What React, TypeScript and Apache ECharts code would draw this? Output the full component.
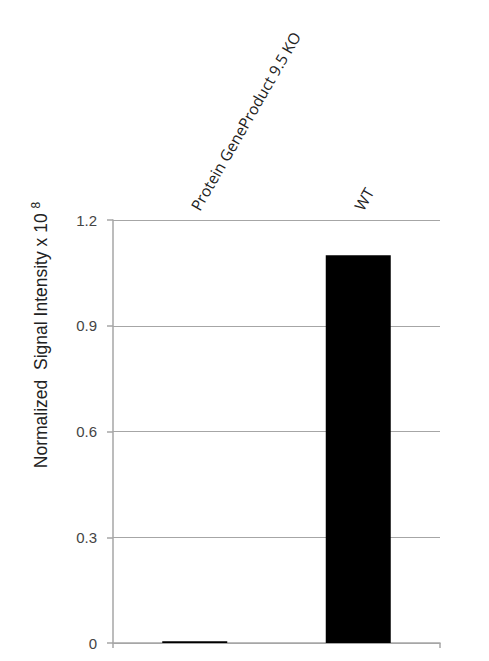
import React, { useEffect, useRef } from "react";
import * as echarts from "echarts";

const categories = ["Protein GeneProduct 9.5 KO", "WT"];
const values = [0.005, 1.1];
const yTicks = { min: 0, max: 1.2, interval: 0.3 };
const yName = "Normalized  Signal Intensity x 10 ";
const yNameSup = "8";

export default function App() {
  const ref = useRef<HTMLDivElement>(null);
  useEffect(() => {
    const chart = echarts.init(ref.current!, null, { renderer: "svg" });
    const grey = "#a6a6a6";
    chart.setOption({
      animation: false,
      backgroundColor: "#ffffff",
      grid: { left: 113, right: 49, top: 220, bottom: 18, containLabel: false },
      xAxis: [
        {
          type: "category",
          data: categories,
          position: "bottom",
          axisLine: { lineStyle: { color: grey, width: 1.5 } },
          axisTick: { show: true, length: 5, lineStyle: { color: grey, width: 1.5 } },
          axisLabel: { show: false },
        },
        {
          type: "category",
          data: categories,
          position: "top",
          axisLine: { show: false },
          axisTick: { show: false },
          axisLabel: {
            rotate: -60,
            margin: 11,
            color: "#222",
            fontSize: 15.5,
            fontFamily: "Open Sans",
          },
        },
      ],
      yAxis: {
        type: "value",
        min: yTicks.min,
        max: yTicks.max,
        interval: yTicks.interval,
        axisLine: { show: true, lineStyle: { color: grey, width: 1.5 } },
        axisTick: { show: true, length: 6, lineStyle: { color: grey, width: 1.5 } },
        splitLine: { show: true, lineStyle: { color: grey, width: 1.2 } },
        axisLabel: {
          color: "#444",
          fontSize: 15,
          fontFamily: "Liberation Sans",
          margin: 16,
          formatter: (v: number) => (v === 0 ? "0" : String(Math.round(v * 10) / 10)),
        },
      },
      series: [
        {
          type: "bar",
          data: values,
          xAxisIndex: 0,
          barWidth: 65,
          itemStyle: { color: "#000000" },
        },
      ],
      graphic: [
        {
          type: "text",
          x: 41,
          y: 335,
          rotation: Math.PI / 2,
          style: {
            text: yName + "{sup|" + yNameSup + "}",
            fill: "#222",
            fontSize: 17.5,
            fontFamily: "Liberation Sans",
            align: "center",
            verticalAlign: "middle",
            rich: {
              sup: { fontSize: 12, verticalAlign: "top", padding: [0, 0, 10, 0], fill: "#222" },
            },
          },
        },
      ],
    });
    return () => chart.dispose();
  }, []);
  return <div ref={ref} style={{ width: 489, height: 661, margin: -8 }} />;
}
